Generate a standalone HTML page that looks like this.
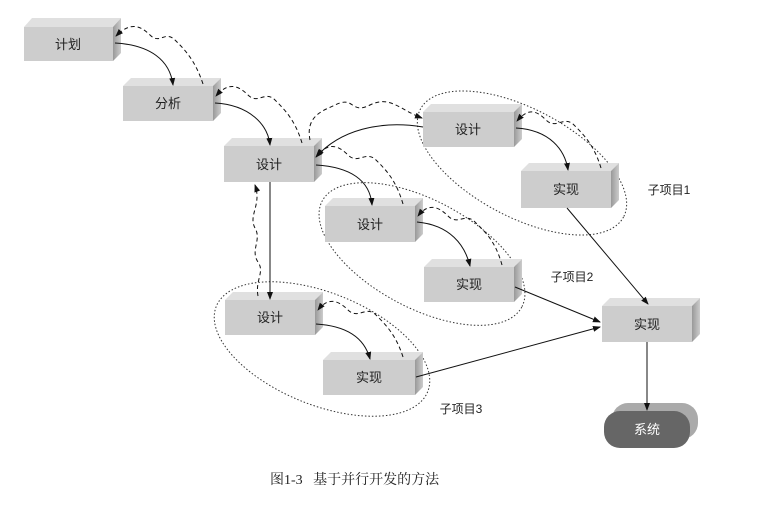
<!DOCTYPE html>
<html><head><meta charset="utf-8"><style>
body{margin:0;background:#fff;width:781px;height:503px;overflow:hidden}
svg text{font-family:"Liberation Sans","Noto Sans CJK SC",sans-serif}
</style></head><body>
<svg width="781" height="503" viewBox="0 0 781 503" xmlns="http://www.w3.org/2000/svg">
<defs>
<marker id="a" markerWidth="8" markerHeight="8" refX="7" refY="4" orient="auto" markerUnits="userSpaceOnUse"><path d="M0,1 L8,4 L0,7 z" fill="#111"/></marker>
<linearGradient id="side" x1="0" x2="1"><stop offset="0" stop-color="#999"/><stop offset="1" stop-color="#ccc"/></linearGradient>
</defs>
<g fill="none" stroke="#333" stroke-dasharray="1.5,2" stroke-width="1">
<ellipse cx="522" cy="163" rx="115" ry="54" transform="rotate(28 522 163)"/>
<ellipse cx="422" cy="254" rx="113" ry="54" transform="rotate(28 422 254)"/>
<ellipse cx="322" cy="349" rx="114" ry="56" transform="rotate(22 322 349)"/>
</g>
<g stroke="none">
<polygon points="24,27 32,18 121,18 113,27" fill="#e0e0e0"/><polygon points="113,27 121,18 121,53 113,61" fill="url(#side)"/><rect x="24" y="27" width="89" height="34" fill="#cdcdcd"/>
<polygon points="123,86 131,78 221,78 213,86" fill="#e0e0e0"/><polygon points="213,86 221,78 221,113 213,121" fill="url(#side)"/><rect x="123" y="86" width="90" height="35" fill="#cdcdcd"/>
<polygon points="224,146 232,138 322,138 314,146" fill="#e0e0e0"/><polygon points="314,146 322,138 322,174 314,182" fill="url(#side)"/><rect x="224" y="146" width="90" height="36" fill="#cdcdcd"/>
<polygon points="423,112 431,104 522,104 514,112" fill="#e0e0e0"/><polygon points="514,112 522,104 522,139 514,147" fill="url(#side)"/><rect x="423" y="112" width="91" height="35" fill="#cdcdcd"/>
<polygon points="521,171 529,163 619,163 611,171" fill="#e0e0e0"/><polygon points="611,171 619,163 619,200 611,208" fill="url(#side)"/><rect x="521" y="171" width="90" height="37" fill="#cdcdcd"/>
<polygon points="325,206 333,198 423,198 415,206" fill="#e0e0e0"/><polygon points="415,206 423,198 423,234 415,242" fill="url(#side)"/><rect x="325" y="206" width="90" height="36" fill="#cdcdcd"/>
<polygon points="424,267 432,259 522,259 514,267" fill="#e0e0e0"/><polygon points="514,267 522,259 522,294 514,302" fill="url(#side)"/><rect x="424" y="267" width="90" height="35" fill="#cdcdcd"/>
<polygon points="225,300 233,292 323,292 315,300" fill="#e0e0e0"/><polygon points="315,300 323,292 323,327 315,335" fill="url(#side)"/><rect x="225" y="300" width="90" height="35" fill="#cdcdcd"/>
<polygon points="323,360 331,352 423,352 415,360" fill="#e0e0e0"/><polygon points="415,360 423,352 423,387 415,395" fill="url(#side)"/><rect x="323" y="360" width="92" height="35" fill="#cdcdcd"/>
<polygon points="602,306 610,298 700,298 692,306" fill="#e0e0e0"/><polygon points="692,306 700,298 700,334 692,342" fill="url(#side)"/><rect x="602" y="306" width="90" height="36" fill="#cdcdcd"/>
<rect x="612" y="403" width="86" height="36" rx="16" fill="#aaa"/>
<rect x="604" y="411" width="86" height="37" rx="16" fill="#666"/>
</g>
<g font-size="13" fill="#222" text-anchor="middle">
<text x="68" y="49">计划</text><text x="168" y="108">分析</text><text x="269" y="169">设计</text>
<text x="468" y="134">设计</text><text x="566" y="194">实现</text><text x="370" y="229">设计</text>
<text x="469" y="289">实现</text><text x="270" y="322">设计</text><text x="369" y="382">实现</text>
<text x="647" y="329">实现</text><text x="647" y="434" fill="#fff">系统</text>
<text x="669" y="194" font-size="12">子项目1</text><text x="572" y="281" font-size="12">子项目2</text><text x="461" y="413" font-size="12">子项目3</text>
</g>
<text x="270" y="484" font-size="14" fill="#222" xml:space="preserve" style="font-family:'Liberation Serif','Noto Serif CJK SC',serif">图1-3   基于并行开发的方法</text>
<g fill="none" stroke="#111" stroke-width="1" marker-end="url(#a)">
<path d="M115,43 C150,45 170,60 173,85"/>
<path d="M215,103 C250,105 268,125 270,145"/>
<path d="M316,165 C350,167 370,180 372,205"/>
<path d="M417,222 C450,225 465,245 470,266"/>
<path d="M516,128 C550,130 565,150 568,170"/>
<path d="M316,324 C350,326 365,340 370,359"/>
<path d="M423,127 C380,120 340,130 316,157"/>
<path d="M270,182 L270,299"/>
<path d="M567,208 L648,304"/>
<path d="M515,287 L600,322"/>
<path d="M416,377 L600,327"/>
<path d="M647,342 L647,410"/>
</g>
<g fill="none" stroke="#111" stroke-width="1" stroke-dasharray="4,3" marker-end="url(#a)">
<path d="M203,84 C195,60 185,50 175,40 C165,30 160,45 150,35 C140,25 130,22 116,36"/>
<path d="M302,143 C295,120 285,110 275,100 C265,90 258,105 248,95 C238,85 228,82 216,96"/>
<path d="M403,204 C396,180 386,170 376,160 C366,150 358,165 348,155 C338,145 328,142 317,156"/>
<path d="M502,265 C495,240 485,232 475,222 C465,212 458,226 448,216 C438,206 428,203 418,216"/>
<path d="M601,168 C594,145 584,135 574,125 C564,115 556,130 546,120 C536,110 528,108 517,121"/>
<path d="M403,357 C396,335 386,325 376,315 C366,305 358,320 348,310 C338,300 328,297 318,310"/>
<path d="M310,140 C305,115 325,110 335,105 C355,95 350,115 370,105 C390,95 400,110 422,118"/>
<path d="M258,296 C255,280 265,272 258,262 C250,250 262,240 255,228 C248,215 262,205 255,185"/>
</g>
</svg>
</body></html>
